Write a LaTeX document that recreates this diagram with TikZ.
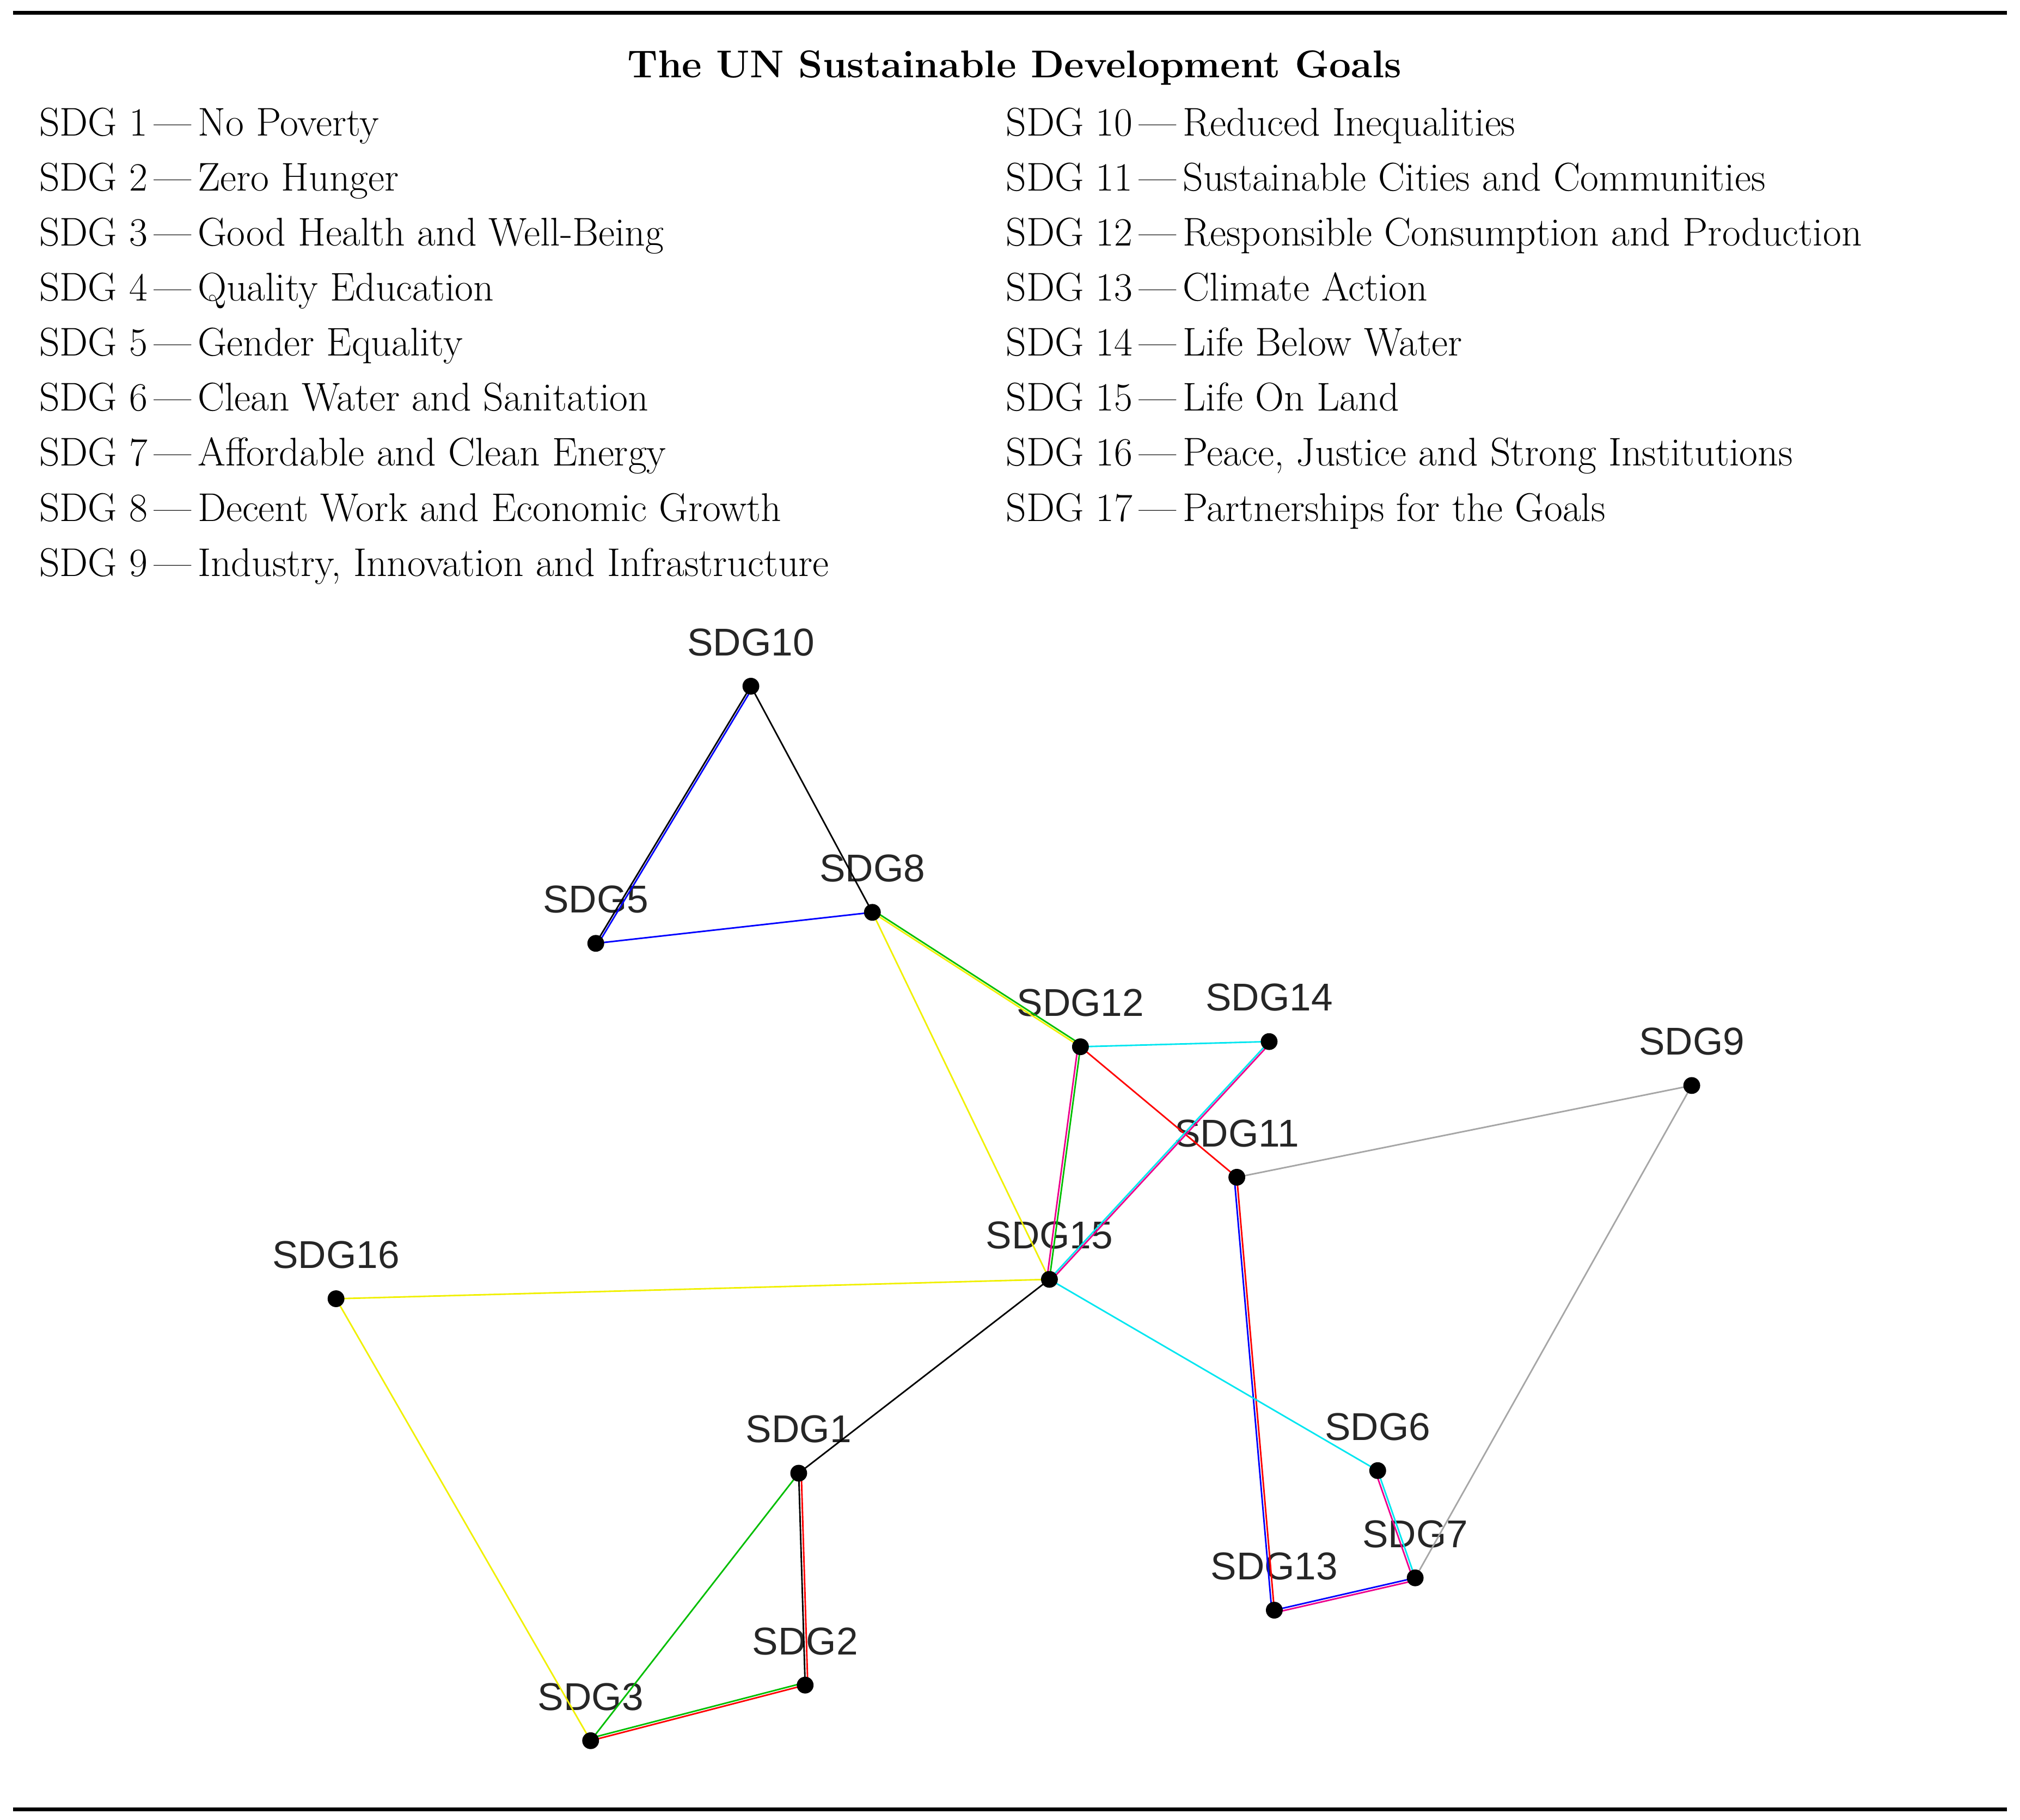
\documentclass[tikz,border=0pt]{standalone}
\usepackage{fontspec}
\newfontfamily\lab{Liberation Sans}
\definecolor{cy}{RGB}{0,230,240}
\definecolor{gr}{RGB}{0,190,0}
\definecolor{ye}{RGB}{240,240,0}
\begin{document}
\begin{tikzpicture}[x=0.5pt,y=-0.5pt,
  dot/.style={circle,fill=black,inner sep=0pt,minimum size=6.5pt},
  lbl/.style={font=\lab\fontsize{15}{15}\selectfont,text=black!85},
  leg/.style={anchor=base west,font=\fontsize{15.5}{16}\selectfont,inner sep=0pt},
  e/.style={line width=0.6pt}]
\useasboundingbox (0,0) rectangle (1563,1408);
\draw[line width=1.5pt] (10,10) -- (1553,10);
\draw[line width=1.5pt] (10,1400) -- (1553,1400);
\node[font=\bfseries\fontsize{15}{16}\selectfont,anchor=base] (title) at (785,60) {The UN Sustainable Development Goals};
\foreach \t [count=\i] in {No Poverty,Zero Hunger,Good Health and Well-Being,Quality Education,Gender Equality,Clean Water and Sanitation,Affordable and Clean Energy,Decent Work and Economic Growth,{Industry, Innovation and Infrastructure}}
  \node[leg] (l\i) at (30,{105+(\i-1)*42.6}) {SDG \i\,---\,\t};
\foreach \t [count=\j] in {Reduced Inequalities,Sustainable Cities and Communities,Responsible Consumption and Production,Climate Action,Life Below Water,Life On Land,{Peace, Justice and Strong Institutions},Partnerships for the Goals}
  \pgfmathtruncatemacro{\k}{\j+9}
  \node[leg] (l\k) at (778,{105+(\j-1)*42.6}) {SDG \k\,---\,\t};
% nodes
\foreach \n/\x/\y in {10/581/531,5/461/730,8/675/706,12/836/810,14/982/806,9/1309/840,11/957/911,15/812/990,16/260/1005,1/618/1140,6/1066/1138,7/1095/1221,13/986/1246,2/623/1304,3/457/1347}{
  \coordinate (s\n) at (\x,\y);
  \node[lbl] (t\n) at (\x,\y-34) {SDG\n};
}
% edges
\begin{scope}[e]
\draw[black] (s10) -- (s5); \draw[blue] ([xshift=1pt]s10) -- ([xshift=1pt]s5);
\draw[black] (s10) -- (s8);
\draw[blue] (s5) -- (s8);
\draw[ye] (s8) -- (s12); \draw[gr] ([yshift=1pt]s8) -- ([yshift=1pt]s12);
\draw[ye] (s8) -- (s15);
\draw[cy] (s12) -- (s14);
\draw[red] (s12) -- (s11);
\draw[gr] (s12) -- (s15); \draw[magenta] ([xshift=-1pt]s12) -- ([xshift=-1pt]s15);
\draw[cy] (s14) -- (s15); \draw[magenta] ([xshift=1pt]s14) -- ([xshift=1pt]s15);
\draw[gray!70] (s9) -- (s11);
\draw[gray!70] (s9) -- (s7);
\draw[red] (s11) -- (s13); \draw[blue] ([xshift=-1pt]s11) -- ([xshift=-1pt]s13);
\draw[ye] (s15) -- (s16);
\draw[black] (s15) -- (s1);
\draw[cy] (s15) -- (s6);
\draw[cy] (s6) -- (s7); \draw[magenta] ([xshift=-1pt]s6) -- ([xshift=-1pt]s7);
\draw[blue] (s7) -- (s13); \draw[magenta] ([yshift=-1pt]s7) -- ([yshift=-1pt]s13);
\draw[ye] (s16) -- (s3);
\draw[black] (s1) -- (s2); \draw[red] ([xshift=1pt]s1) -- ([xshift=1pt]s2);
\draw[gr] (s1) -- (s3);
\draw[red] (s2) -- (s3); \draw[gr] ([yshift=1pt]s2) -- ([yshift=1pt]s3);
\end{scope}
\foreach \n in {10,5,8,12,14,9,11,15,16,1,6,7,13,2,3}
  \node[dot] (d\n) at (s\n) {};
\end{tikzpicture}
\end{document}
